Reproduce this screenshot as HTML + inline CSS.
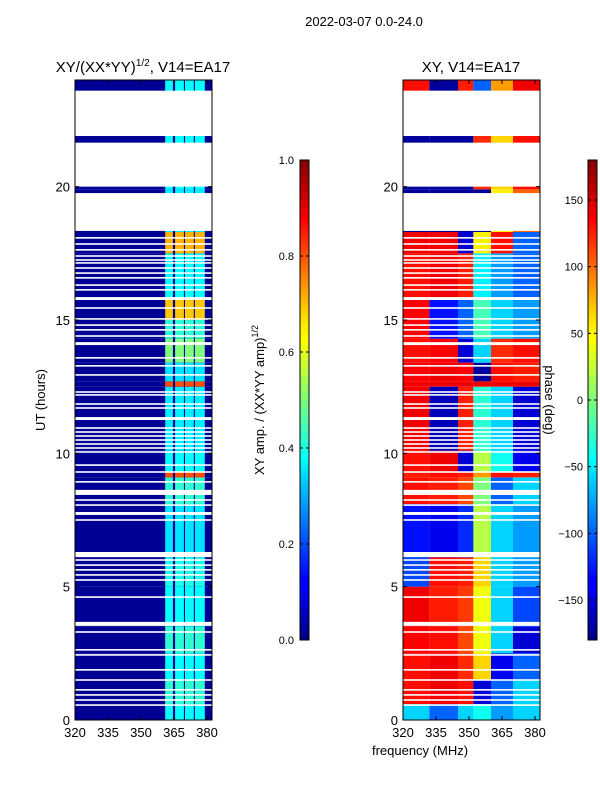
<!DOCTYPE html>
<html><head><meta charset="utf-8"><style>
body{margin:0;background:#fff;width:600px;height:800px;overflow:hidden}
text{font-family:"Liberation Sans",sans-serif;fill:#000}
</style></head><body>
<svg id="fig" width="600" height="800" xmlns="http://www.w3.org/2000/svg">
<defs>
<linearGradient id="jet" x1="0" y1="1" x2="0" y2="0">
<stop offset="0" stop-color="#000080"/><stop offset="0.11" stop-color="#0000ff"/><stop offset="0.125" stop-color="#0000ff"/>
<stop offset="0.34" stop-color="#00d4ff"/><stop offset="0.375" stop-color="#00ffff"/><stop offset="0.5" stop-color="#7dff7a"/>
<stop offset="0.625" stop-color="#ffff00"/><stop offset="0.66" stop-color="#ffea00"/><stop offset="0.875" stop-color="#ff0000"/><stop offset="1" stop-color="#800000"/>
</linearGradient>
</defs>
<text x="364" y="26" font-size="13" text-anchor="middle">2022-03-07 0.0-24.0</text>
<text x="143" y="72" font-size="15" text-anchor="middle">XY/(XX*YY)<tspan font-size="10" dy="-6">1/2</tspan><tspan dy="6">, V14=EA17</tspan></text>
<text x="471" y="72" font-size="15" text-anchor="middle">XY, V14=EA17</text>
<text transform="translate(45,400) rotate(-90)" font-size="13" text-anchor="middle">UT (hours)</text>
<text x="420" y="755" font-size="13" text-anchor="middle">frequency (MHz)</text>
<text transform="translate(264,400) rotate(-90)" font-size="13" text-anchor="middle">XY amp. / (XX*YY amp)<tspan font-size="9" dy="-6">1/2</tspan></text>
<g id="left"></g>
<g id="right"></g>
<g id="cb1"></g>
<g id="cb2"></g>
<text transform="translate(545,400) rotate(90)" font-size="13" text-anchor="middle">phase (deg)</text>
</svg>
<script>
// ---- data ----
const bandStarts=[0,0.6,1.5,2.5,3.5,5.0,6.1,8.1,9.1,9.3,10.1,12.5,12.7,13.4,14.3,15.0,15.8,17.5,18.3,19.9,21.9];
const bandEnds=[0.6,1.5,2.5,3.5,5.0,6.1,8.1,9.1,9.3,10.1,12.5,12.7,13.4,14.3,15.0,15.8,17.5,18.3,19.9,21.9,24];
const ampHigh=[0.38,0.42,0.38,0.42,0.38,0.4,0.35,0.42,0.8,0.38,0.36,0.8,0.35,0.5,0.42,0.68,0.38,0.7,0.36,0.38,0.38];
const ampLow=0.02;
const phaseEdges=[320,332,345,352,360,370,382.5];
const phaseValues=[
[-60,-100,-60,-40,-80,-60],[130,140,130,-150,-100,-60],[130,140,120,60,-140,-100],
[135,130,110,40,-60,-150],[140,125,115,40,-60,-110],[-110,130,125,60,-60,-80],
[-130,-140,-120,20,-60,-80],[130,125,110,0,-100,-60],[125,130,125,80,130,125],
[130,140,-150,20,-40,-140],[140,-160,125,-30,-60,-150],[140,140,140,140,140,140],
[135,140,135,-170,130,125],[130,135,-150,-60,120,130],[135,-130,-100,-20,-60,-80],
[135,-130,-100,-20,-60,-80],[130,140,125,-50,-80,-100],[140,140,-150,50,130,-100],
[-170,-170,-170,-170,50,100],[-170,-170,-170,120,60,130],[130,-170,125,-100,80,140]];
const ampColumns=[[361,364.5],[365.5,369.5],[370,374],[374.5,379]];
const bigGaps=[[21.9,23.6],[20.0,21.65],[18.34,19.76],[15.75,15.86],[14.06,14.17],[11.25,11.36],[8.44,8.63],[7.69,7.8],[6.11,6.3],[3.53,3.68]];
const thinGaps=[18.08,17.85,17.63,17.4,17.25,17.14,16.95,16.76,16.58,16.31,16.13,15.45,15.04,14.81,14.63,14.4,13.58,13.28,12.94,12.3,12.19,11.85,11.7,10.95,10.8,10.65,10.5,10.35,10.2,10.05,9.56,9.3,8.93,8.25,8.06,7.5,6.0,5.81,5.63,5.44,5.25,4.61,3.3,2.63,2.44,1.88,1.5,1.13,0.94,0.75,0.56];
const yTicks=[0,5,10,15,20];
const xTicks=[320,335,350,365,380];
const ampTicks=[0.0,0.2,0.4,0.6,0.8,1.0];
const phaseTicks=[-150,-100,-50,0,50,100,150];
// ---- helpers ----
const NS="http://www.w3.org/2000/svg";
function jet(v){const c=t=>Math.round(255*Math.max(0,Math.min(1,1.5-Math.abs(4*v-t))));return `rgb(${c(3)},${c(2)},${c(1)})`;}
const Y=u=>720-u*(640/24);
function mk(tag,attrs,parent){const e=document.createElementNS(NS,tag);for(const k in attrs)e.setAttribute(k,attrs[k]);parent.appendChild(e);return e;}
function panel(g,x0,kind){
  const X=f=>x0+(f-320)*2.2;
  for(let i=0;i<bandStarts.length;i++){
    const y1=Y(bandEnds[i]),y0=Y(bandStarts[i]);
    if(kind==='amp'){
      const r=mk('rect',{x:X(320),y:y1,width:137,height:y0-y1,fill:jet(ampLow)},g);
      
      
      ampColumns.forEach(c=>{const q=mk('rect',{x:X(c[0]),y:y1,width:X(c[1])-X(c[0]),height:y0-y1,fill:jet(ampHigh[i])},g);
        
        });
    }else{
      for(let s=0;s<6;s++){const p=mk('rect',{x:X(phaseEdges[s]),y:y1,width:X(phaseEdges[s+1])-X(phaseEdges[s]),height:y0-y1,fill:jet((phaseValues[i][s]+180)/360)},g);
        
        }
    }
  }
  bigGaps.forEach(gp=>{const r=mk('rect',{x:x0,y:Y(gp[1]),width:137,height:Y(gp[0])-Y(gp[1]),fill:'#fff'},g);
    
    });
  thinGaps.forEach(u=>{const r=mk('rect',{x:x0,y:Y(u)-0.8,width:137,height:1.6,fill:'#fff'},g);
    
    });
  const fr=mk('rect',{x:x0,y:80,width:137,height:640,fill:'none',stroke:'#000','stroke-width':1},g);
  
  
  yTicks.forEach(t=>{mk('line',{x1:x0,x2:x0+4,y1:Y(t),y2:Y(t),stroke:'#000'},g);mk('line',{x1:x0+137,x2:x0+133,y1:Y(t),y2:Y(t),stroke:'#000'},g);
    const tx=mk('text',{x:x0-5,y:Y(t)+5,'font-size':13,'text-anchor':'end'},g);tx.textContent=t;
    
    });
  xTicks.forEach(t=>{mk('line',{x1:X(t),x2:X(t),y1:720,y2:716,stroke:'#000'},g);mk('line',{x1:X(t),x2:X(t),y1:80,y2:84,stroke:'#000'},g);
    const tx=mk('text',{x:X(t),y:737,'font-size':13,'text-anchor':'middle'},g);tx.textContent=t;
    
    });
}
panel(document.getElementById('left'),75,'amp');
panel(document.getElementById('right'),403,'phase');
function cbar(g,x0,ticks,vmin,vmax,fmt){
  const r=mk('rect',{x:x0,y:160,width:9,height:480,fill:'url(#jet)',stroke:'#000','stroke-width':1},g);
  
  
  ticks.forEach(t=>{const y=640-(t-vmin)/(vmax-vmin)*480;
    mk('line',{x1:x0,x2:x0+3,y1:y,y2:y,stroke:'#000'},g);mk('line',{x1:x0+9,x2:x0+6,y1:y,y2:y,stroke:'#000'},g);
    const tx=mk('text',{x:x0-5,y:y+4,'font-size':11,'text-anchor':'end'},g);
    tx.setAttribute('x',fmt?x0-6:x0-5);tx.textContent=fmt?t.toFixed(1):(t<0?'\u2212'+(-t):t);
    
    });
}
cbar(document.getElementById('cb1'),300,ampTicks,0,1,true);
cbar(document.getElementById('cb2'),588,phaseTicks,-180,180,false);
</script>
</body></html>
